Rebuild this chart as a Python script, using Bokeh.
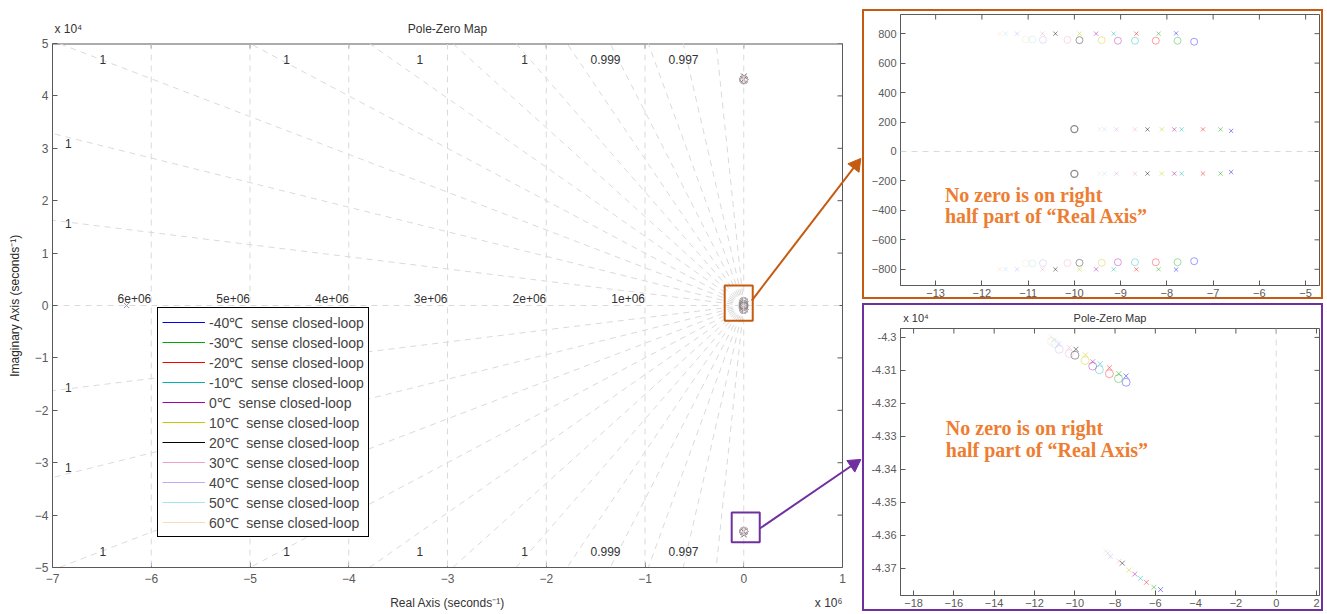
import math
import numpy as np
from bokeh.plotting import figure
from bokeh.models import (BoxAnnotation, LinearAxis, FixedTicker, NumeralTickFormatter,
                          Legend, LegendItem, Span, Range1d)
from bokeh.layouts import row, column
from bokeh.embed import file_html
from bokeh.resources import INLINE
from bokeh.core.properties import value

# ---------------- data ----------------
temps = ["-40℃", "-30℃", "-20℃", "-10℃", "0℃", "10℃", "20℃", "30℃", "40℃", "50℃", "60℃"]
colors = ["#0000ff", "#00a800", "#ff0000", "#00b4b4", "#a800a8", "#c8c800",
          "#000000", "#f0a0c8", "#c8a8f0", "#a8e4f0", "#f8dcc0"]

# low-frequency poles / zeros (seconds^-1), upper half (conjugates mirrored)
lf_pole_re = [-7.80, -8.18, -8.66, -9.15, -9.53, -9.89, -10.41, -10.69, -11.24, -11.49, -11.62]
lf_pole_im = [802, 800, 800, 800, 800, 800, 800, 800, 800, 800, 800]
lf_zero_re = [-7.41, -7.77, -8.24, -8.69, -9.06, -9.41, -9.89, -10.15, -10.68, -10.91, -11.05]
lf_zero_im = [745, 752, 752, 752, 752, 756, 756, 758, 758, 760, 760]
mid_pole_re = [-6.61, -6.84, -7.22, -7.68, -7.84, -8.11, -8.42, -8.69, -9.09, -9.35, -9.46]
mid_pole_im = [140, 150, 150, 150, 150, 150, 150, 150, 150, 150, 150]
common_zero_re = [-10.0]
common_zero_im = [152]

# high-frequency poles / zeros, lower half (conjugates mirrored)
hf_pole_re = [-7.45, -7.81, -8.28, -8.74, -9.11, -9.47, -9.94, -10.27, -10.80, -11.02, -11.18]
hf_pole_im = [-43117, -43110, -43092, -43080, -43074, -43053, -43036, -43031, -43020, -43008, -42998]
hf_zero_re = [-7.45, -7.83, -8.28, -8.78, -9.11, -9.49, -9.99, -10.27, -10.77, -10.98, -11.15]
hf_zero_im = [-43136, -43125, -43110, -43098, -43087, -43070, -43054, -43049, -43036, -43019, -43012]
hf2_pole_re = [-5.74, -6.07, -6.44, -6.74, -7.02, -7.31, -7.64, -7.80, -8.23, -8.35, -8.47]
hf2_pole_im = [-43765, -43758, -43743, -43731, -43718, -43706, -43685, -43679, -43665, -43654, -43648]

far_pole_re = [-6.25e6]
far_pole_im = [0.0]

# s-grid
damping_ratios = [0.9999973, 0.999989, 0.999974, 0.99995, 0.999913, 0.999856,
                  0.999765, 0.99961, 0.999317, 0.998664, 0.99669, 0.984325]
nat_freqs = [6e6, 5e6, 4e6, 3e6, 2e6, 1e6]
zeta_label_text = ["1", "1", "1", "1", "0.999", "0.997", "1", "1"]
zeta_label_x = [-6.49e6, -4.63e6, -3.28e6, -2.22e6, -1.40e6, -0.61e6, -6.84e6, -6.84e6]
zeta_label_y = [4.69e4, 4.69e4, 4.69e4, 4.69e4, 4.69e4, 4.69e4, 1.56e4, 3.09e4]

main_title = "Pole-Zero Map"
x_label = "Real Axis (seconds⁻¹)"
y_label = "Imaginary Axis (seconds⁻¹)"
x_mult = "x 10⁶"
y_mult = "x 10⁴"
note_lines = ["No zero is on right", "half part of “Real Axis”"]

AX = "#5a5a5a"
FONT = "Liberation Sans"
GRID = "#dadada"
ORANGE = "#c55a11"
PURPLE = "#7030a0"
NOTE = "#ed7d31"


def all_points(i):
    pr = [lf_pole_re[i], lf_pole_re[i], mid_pole_re[i], mid_pole_re[i],
          hf_pole_re[i], hf_pole_re[i], hf2_pole_re[i], hf2_pole_re[i]]
    pi = [lf_pole_im[i], -lf_pole_im[i], mid_pole_im[i], -mid_pole_im[i],
          hf_pole_im[i], -hf_pole_im[i], hf2_pole_im[i], -hf2_pole_im[i]]
    zr = [lf_zero_re[i], lf_zero_re[i], hf_zero_re[i], hf_zero_re[i]]
    zi = [lf_zero_im[i], -lf_zero_im[i], hf_zero_im[i], -hf_zero_im[i]]
    return pr, pi, zr, zi


def style(p, box_x, box_y, xticks, yticks, fsize, pxx, pxy, yfmt=None):
    """MATLAB-like box: ticks inward on all four sides."""
    p.grid.visible = False
    p.xaxis.ticker = FixedTicker(ticks=xticks)
    p.yaxis.ticker = FixedTicker(ticks=yticks)
    if yfmt is not None:
        p.yaxis.formatter = yfmt
    for ax in p.axis:
        ax.major_tick_in = 5
        ax.major_tick_out = 0
        ax.minor_tick_in = 0
        ax.minor_tick_out = 0
        ax.axis_line_color = AX
        ax.major_tick_line_color = AX
        ax.major_label_text_color = AX
        ax.major_label_text_font = FONT
        ax.major_label_text_font_size = fsize
        ax.major_label_standoff = 4
    p.background_fill_color = "white"
    p.border_fill_color = "white"
    dx = 5.0 / pxx
    dy = 5.0 / pxy
    p.segment(xticks, [box_y[1]] * len(xticks), xticks, [box_y[1] - dy] * len(xticks),
              line_color=AX, line_width=1)
    p.segment([box_x[1]] * len(yticks), yticks, [box_x[1] - dx] * len(yticks), yticks,
              line_color=AX, line_width=1)


def text_axis(p, side, ticks, labels, fsize, standoff, color="#333333"):
    ax = LinearAxis(ticker=FixedTicker(ticks=ticks),
                    major_label_overrides={t: s for t, s in zip(ticks, labels)},
                    axis_line_color=None, major_tick_line_color=None, minor_tick_line_color=None,
                    major_tick_in=0, major_tick_out=0, minor_tick_in=0, minor_tick_out=0,
                    major_label_standoff=standoff, major_label_text_font=FONT,
                    major_label_text_font_size=fsize, major_label_text_color=color)
    p.add_layout(ax, side)
    return ax


def draw_markers(p, xs, ys, size):
    for i, c in enumerate(colors):
        pr, pi, zr, zi = all_points(i)
        p.scatter([v * xs for v in pr], [v * ys for v in pi], marker="x", size=size,
                  line_color=c, line_alpha=0.45, line_width=1)
        p.scatter([v * xs for v in zr], [v * ys for v in zi], marker="circle", size=size + 1,
                  fill_color=None, line_color=c, line_alpha=0.38, line_width=1)
    p.scatter([v * xs for v in common_zero_re] * 2,
              [v * ys for v in common_zero_im] + [-v * ys for v in common_zero_im],
              marker="circle", size=size + 1, fill_color=None, line_color="#8a8a8a", line_width=1.3)
    p.scatter([v * xs for v in far_pole_re], [v * ys for v in far_pole_im], marker="x",
              size=size, line_color="#a890b8", line_width=1)


# ---------------- main plot ----------------
BX, BY = (-7, 1), (-5, 5)          # axes box
PXX, PXY = 790 / 8.0, 525 / 10.0    # pixels per unit
XMAX = BX[1] + 20 / PXX             # frame runs on to the canvas edge (for the arrows)
p = figure(width=862, height=612, x_range=Range1d(BX[0], XMAX), y_range=Range1d(*BY),
           title=None, output_backend="svg", toolbar_location=None,
           min_border_left=52, min_border_right=0, min_border_top=43, min_border_bottom=0)
style(p, BX, BY, list(range(-7, 2)), list(range(-5, 6)), "12px", PXX, PXY)
p.outline_line_color = None
p.xaxis.bounds = BX
p.xaxis.major_label_standoff = 6
p.yaxis.axis_label = y_label
p.yaxis.axis_label_text_font = FONT
p.yaxis.axis_label_text_font_size = "12px"
p.yaxis.axis_label_text_font_style = "normal"
p.yaxis.axis_label_text_color = "#262626"
p.yaxis.axis_label_standoff = 10
# box top and right edges
p.segment([BX[0], BX[1]], [BY[1], BY[0]], [BX[1], BX[1]], [BY[1], BY[1]],
          line_color=AX, line_width=[2, 1])
# title / multipliers / x label as text rows
text_axis(p, "above", [-6.84, -3.0], [y_mult, main_title], "12px", 8)
text_axis(p, "below", [-3.0, 0.86], [x_label, x_mult], "12px", 10)

XS, YS = 1e-6, 1e-4
# damping lines
k = [np.sqrt(1 - z * z) / z for z in damping_ratios]
R = 20.0
n = 2 * len(k)
y1 = [R * kk * YS / XS for kk in k] + [-R * kk * YS / XS for kk in k]
p.segment([0.0] * n, [0.0] * n, [-R] * n, y1, line_color=GRID, line_dash="6 5", line_width=1)
# natural frequency lines (circles, appear vertical at this scale)
for w in nat_freqs + [0.0]:
    p.add_layout(Span(location=-w * XS, dimension="height", line_color=GRID,
                      line_dash="6 5", line_width=1))
p.segment([BX[0]], [0.0], [BX[1]], [0.0], line_color=GRID, line_dash="6 5", line_width=1)
p.text([-w * XS for w in nat_freqs], [0.0] * len(nat_freqs), text=[f"{w:g}" for w in nat_freqs],
       text_align="right", text_baseline="bottom", y_offset=-3,
       text_font=value(FONT), text_font_size="12px", text_color="#333333")
p.text([x * XS for x in zeta_label_x] * 2,
       [y * YS for y in zeta_label_y] + [-y * YS for y in zeta_label_y],
       text=zeta_label_text * 2, text_align="center", text_baseline="middle",
       text_font=value(FONT), text_font_size="12px", text_color="#333333")

draw_markers(p, XS, YS, 7)

# highlight boxes
p.add_layout(BoxAnnotation(left=-0.193, right=0.091, bottom=-0.29, top=0.38,
                           fill_alpha=0, line_color=ORANGE, line_alpha=1, line_width=2))
p.add_layout(BoxAnnotation(left=-0.122, right=0.162, bottom=-4.52, top=-3.95,
                           fill_alpha=0, line_color=PURPLE, line_alpha=1, line_width=2))
# arrows: body + triangular head
arrow_start = [(0.081, 0.095), (0.162, -4.256)]
arrow_tip = [(1.185, 2.805), (1.185, -2.939)]
arrow_col = [ORANGE, PURPLE]
for (xs0, ys0), (xt, yt), c in zip(arrow_start, arrow_tip, arrow_col):
    th = math.atan2((yt - ys0) * PXY, (xt - xs0) * PXX)
    hx = xt - 8.0 * math.cos(th) / PXX
    hy = yt - 8.0 * math.sin(th) / PXY
    p.segment([xs0], [ys0], [hx], [hy], line_color=c, line_width=2)
    p.scatter([hx], [hy], marker="triangle", size=14, angle=th - math.pi / 2,
              fill_color=c, line_color=c)

# legend
items = []
for t, c in zip(temps, colors):
    r = p.line([np.nan, np.nan], [np.nan, np.nan], line_color=c, line_width=1.2)
    items.append(LegendItem(label=f"{t}  sense closed-loop", renderers=[r]))
leg = Legend(items=items, location=(105, 30), label_text_font=FONT, label_text_font_size="14px",
             label_height=20, glyph_height=20, glyph_width=43, spacing=0, padding=4, margin=0,
             label_standoff=4, border_line_color="black", border_line_width=1,
             border_line_alpha=1, background_fill_alpha=1)
p.add_layout(leg)

# ---------------- inset 1 ----------------
XR1, YR1 = (-13.76, -4.7), (-910, 930)
p1 = figure(width=461, height=290, x_range=Range1d(*XR1), y_range=Range1d(*YR1),
            output_backend="svg", toolbar_location=None,
            min_border_left=32, min_border_right=6, min_border_top=3, min_border_bottom=16,
            margin=(9, 0, 0, 0),
            styles={"border": f"2px solid {ORANGE}", "box-sizing": "border-box"})
style(p1, XR1, YR1, list(range(-13, -4)), list(range(-800, 801, 200)), "11px",
      419 / (XR1[1] - XR1[0]), 267 / (YR1[1] - YR1[0]))
p1.outline_line_color = AX
p1.xaxis.major_label_standoff = 3
p1.add_layout(Span(location=0, dimension="width", line_color=GRID, line_dash="6 5", line_width=1))
draw_markers(p1, 1.0, 1.0, 6)
p1.text([-12.8, -12.8], [-297, -441], text=note_lines, text_baseline="middle",
        text_font=value("Liberation Serif"), text_font_style="bold", text_font_size="20px",
        text_color=NOTE)

# ---------------- inset 2 ----------------
XR2, YR2 = (-18.65, 2.15), (-4.3783, -4.2973)
p2 = figure(width=461, height=308, x_range=Range1d(*XR2), y_range=Range1d(*YR2),
            title=None, output_backend="svg", toolbar_location=None,
            min_border_left=36, min_border_right=4, min_border_top=23, min_border_bottom=18,
            styles={"border": f"2px solid {PURPLE}", "box-sizing": "border-box"})
style(p2, XR2, YR2, list(range(-18, 3, 2)),
      [-4.37, -4.36, -4.35, -4.34, -4.33, -4.32, -4.31, -4.30], "11px",
      417 / (XR2[1] - XR2[0]), 263 / (YR2[1] - YR2[0]),
      yfmt=NumeralTickFormatter(format="0.[00]"))
p2.outline_line_color = AX
p2.xaxis.major_label_standoff = 3
text_axis(p2, "above", [-17.88, (XR2[0] + XR2[1]) / 2], [y_mult, main_title], "11px", 5)
p2.add_layout(Span(location=0, dimension="height", line_color=GRID, line_dash="6 5", line_width=1))
draw_markers(p2, 1.0, YS, 7)
p2.text([-16.4, -16.4], [-4.3274, -4.3341], text=note_lines, text_baseline="middle",
        text_font=value("Liberation Serif"), text_font_style="bold", text_font_size="20px",
        text_color=NOTE)

layout = row(p, column(p1, p2, spacing=4), spacing=0)
open("out.html", "w").write(file_html(layout, INLINE))
